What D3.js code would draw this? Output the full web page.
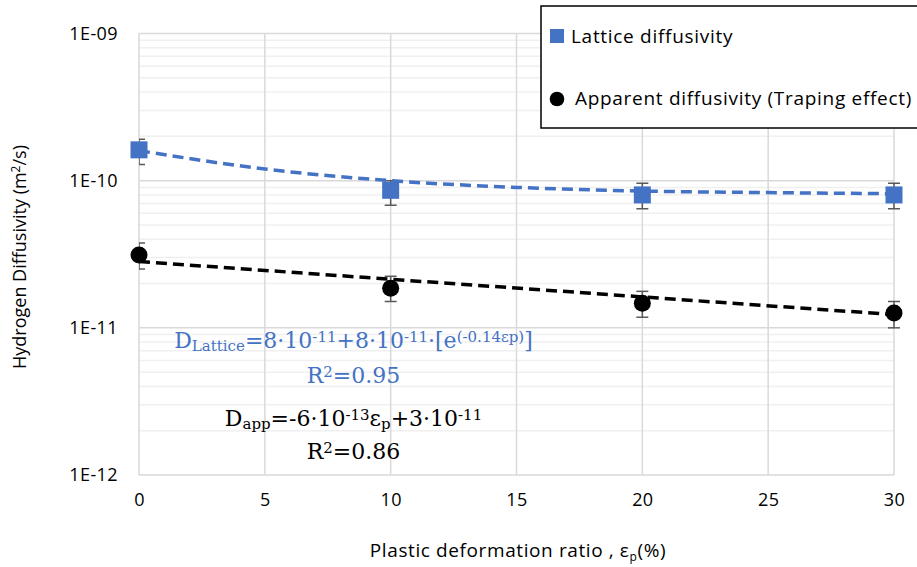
<!DOCTYPE html>
<html>
<head>
<meta charset="utf-8">
<script src="https://cdn.jsdelivr.net/npm/d3@7"></script>
<style>
  body { margin: 0; background: #fff; }
  svg { display: block; }
  text { font-family: "Open Sans", Lato, sans-serif; }
</style>
</head>
<body>
<div id="chart"></div>
<script>
// data
var strain = [0, 10, 20, 30];
var latticeD = [1.62e-10, 8.6e-11, 8.0e-11, 8.0e-11];
var latticeLo = [1.29e-10, 6.8e-11, 6.45e-11, 6.45e-11];
var latticeHi = [1.91e-10, 1.0e-10, 9.6e-11, 9.6e-11];
var apparentD = [3.13e-11, 1.86e-11, 1.47e-11, 1.26e-11];
var apparentLo = [2.51e-11, 1.51e-11, 1.18e-11, 1.0e-11];
var apparentHi = [3.77e-11, 2.24e-11, 1.77e-11, 1.51e-11];
// trendlines as drawn
var latticeTrendX = [0, 5, 10, 15, 20, 25, 30];
var latticeTrendY = [1.6e-10, 1.2e-10, 1.0e-10, 9.0e-11, 8.5e-11, 8.3e-11, 8.15e-11];
var appTrendX = [0, 30];
var appTrendY = [2.82e-11, 1.23e-11];
var xTicks = [0, 5, 10, 15, 20, 25, 30];
var yTicks = [1e-12, 1e-11, 1e-10, 1e-9];
var yTickLabels = ["1E-12", "1E-11", "1E-10", "1E-09"];

var svgWidth = 917, svgHeight = 567;
var margin = {left: 139, top: 33.5, right: 23, bottom: 92};
var width = svgWidth - margin.left - margin.right;
var height = svgHeight - margin.top - margin.bottom;
var blue = "#4472c4";

var svg = d3.select("#chart").append("svg")
  .attr("width", svgWidth)
  .attr("height", svgHeight);

var chartGroup = svg.append("g")
  .attr("transform", `translate(${margin.left}, ${margin.top})`);

var x = d3.scaleLinear().domain([0, 30]).range([0, width]);
var y = d3.scaleLog().domain([1e-12, 1e-9]).range([height, 0]);

// minor horizontal grid
var minor = [];
[1e-12, 1e-11, 1e-10].forEach(function(dec) {
  for (var k = 2; k <= 9; k++) minor.push(dec * k);
});
chartGroup.selectAll(".minor").data(minor).enter().append("line")
  .attr("x1", 0).attr("x2", width)
  .attr("y1", d => y(d)).attr("y2", d => y(d))
  .attr("stroke", "#f0f0f0").attr("stroke-width", 1.5);

// major grid
chartGroup.selectAll(".hmajor").data(yTicks).enter().append("line")
  .attr("x1", 0).attr("x2", width)
  .attr("y1", d => y(d)).attr("y2", d => y(d))
  .attr("stroke", "#d9d9d9").attr("stroke-width", 1.5);
chartGroup.selectAll(".vmajor").data(xTicks).enter().append("line")
  .attr("x1", d => x(d)).attr("x2", d => x(d))
  .attr("y1", 0).attr("y2", height)
  .attr("stroke", "#d9d9d9").attr("stroke-width", 1.5);

// axis tick labels
var yAxis = d3.axisLeft(y).tickValues(yTicks)
  .tickFormat((d, i) => yTickLabels[i]).tickSize(0).tickPadding(21);
var gy = chartGroup.append("g").call(yAxis);
gy.select(".domain").remove();
gy.selectAll("text").style("font-size", "18px").style("letter-spacing", "0.4px")
  .attr("fill", "#000").style("font-family", "'Open Sans', sans-serif");

var xAxis = d3.axisBottom(x).tickValues(xTicks).tickSize(0).tickPadding(18);
var gx = chartGroup.append("g").attr("transform", `translate(0, ${height})`).call(xAxis);
gx.select(".domain").remove();
gx.selectAll("text").style("font-size", "18px").style("letter-spacing", "0.4px")
  .attr("fill", "#000").style("font-family", "'Open Sans', sans-serif");

// clip for marks
svg.append("clipPath").attr("id", "plotclip").append("rect")
  .attr("x", 0).attr("y", -20).attr("width", width + 20).attr("height", height + 40);

function drawSeries(vals, lo, hi, shape, color) {
  var g = chartGroup.append("g").attr("clip-path", "url(#plotclip)");
  var data = strain.map((s, i) => ({x: s, v: vals[i], lo: lo[i], hi: hi[i]}));
  g.selectAll(".err").data(data).enter().append("line")
    .attr("x1", d => x(d.x)).attr("x2", d => x(d.x))
    .attr("y1", d => y(d.lo)).attr("y2", d => y(d.hi))
    .attr("stroke", "#595959").attr("stroke-width", 1.5);
  ["lo", "hi"].forEach(function(k) {
    g.selectAll(".cap" + k).data(data).enter().append("line")
      .attr("x1", d => x(d.x) - 6).attr("x2", d => x(d.x) + 6)
      .attr("y1", d => y(d[k])).attr("y2", d => y(d[k]))
      .attr("stroke", "#595959").attr("stroke-width", 1.5);
  });
  if (shape == "square") {
    chartGroup.selectAll(".sq").data(data).enter().append("rect")
      .attr("x", d => x(d.x) - 8.5).attr("y", d => y(d.v) - 8.5)
      .attr("width", 17).attr("height", 17).attr("fill", color);
  } else {
    chartGroup.selectAll(".ci").data(data).enter().append("circle")
      .attr("cx", d => x(d.x)).attr("cy", d => y(d.v))
      .attr("r", 8.5).attr("fill", color);
  }
}
drawSeries(latticeD, latticeLo, latticeHi, "square", blue);
drawSeries(apparentD, apparentLo, apparentHi, "circle", "#000");

// trendlines
var line = d3.line().x(d => x(d[0])).y(d => y(d[1])).curve(d3.curveMonotoneX);
chartGroup.append("path")
  .datum(latticeTrendX.map((v, i) => [v, latticeTrendY[i]]))
  .attr("d", line).attr("fill", "none").attr("stroke", blue)
  .attr("stroke-width", 3.5).attr("stroke-dasharray", "11,6");
chartGroup.append("path")
  .datum(appTrendX.map((v, i) => [v, appTrendY[i]]))
  .attr("d", d3.line().x(d => x(d[0])).y(d => y(d[1])))
  .attr("fill", "none").attr("stroke", "#000")
  .attr("stroke-width", 3.5).attr("stroke-dasharray", "11,6");

// equations
var serif = "'DejaVu Serif', 'Liberation Serif', serif";
function eq(parts, cx, yy, color) {
  var t = svg.append("text").attr("x", cx).attr("y", yy)
    .attr("text-anchor", "middle").attr("fill", color)
    .style("font-family", serif).style("font-size", "22px");
  parts.forEach(function(p) {
    var ts = t.append("tspan").text(p[0]);
    if (p[1] == "sub") ts.attr("baseline-shift", "-3").style("font-size", "15px");
    if (p[1] == "sup") ts.attr("baseline-shift", "6").style("font-size", "15px");
  });
  return t;
}
eq([["D"], ["Lattice", "sub"], ["=8·10"], ["-11", "sup"], ["+8·10"], ["-11", "sup"],
    ["·[e"], ["(-0.14εp)", "sup"], ["]"]], 353.5, 348, blue);
eq([["R"], ["2", "sup"], ["=0.95"]], 353.5, 383, blue);
eq([["D"], ["app", "sub"], ["=-6·10"], ["-13", "sup"], ["ε"], ["p", "sub"], ["+3·10"], ["-11", "sup"]], 353.5, 426, "#000");
eq([["R"], ["2", "sup"], ["=0.86"]], 353.5, 459, "#000");

// axis titles
var yt = svg.append("text")
  .attr("transform", "translate(26, 257) rotate(-90)")
  .attr("text-anchor", "middle").style("font-size", "18px");
yt.append("tspan").text("Hydrogen Diffusivity (m");
yt.append("tspan").attr("baseline-shift", "6").style("font-size", "12px").text("2");
yt.append("tspan").text("/s)");

var xt = svg.append("text").attr("x", 518).attr("y", 557)
  .attr("text-anchor", "middle").style("font-size", "19px").style("letter-spacing", "0.6px");
xt.append("tspan").text("Plastic deformation ratio , ε");
xt.append("tspan").attr("baseline-shift", "-4").style("font-size", "12px").text("p");
xt.append("tspan").text("(%)");

// legend
var lg = svg.append("g");
lg.append("rect").attr("x", 541).attr("y", 6).attr("width", 400).attr("height", 122)
  .attr("fill", "#fff").attr("stroke", "#000").attr("stroke-width", 1.5);
lg.append("rect").attr("x", 550).attr("y", 29).attr("width", 14).attr("height", 14).attr("fill", blue);
lg.append("text").attr("x", 571).attr("y", 43).style("font-size", "19px")
  .style("letter-spacing", "0.7px").text("Lattice diffusivity");
lg.append("circle").attr("cx", 557).attr("cy", 99).attr("r", 7.3).attr("fill", "#000");
lg.append("text").attr("x", 575).attr("y", 105).style("font-size", "19px")
  .style("letter-spacing", "0.7px").text("Apparent diffusivity (Traping effect)");
</script>
</body>
</html>
